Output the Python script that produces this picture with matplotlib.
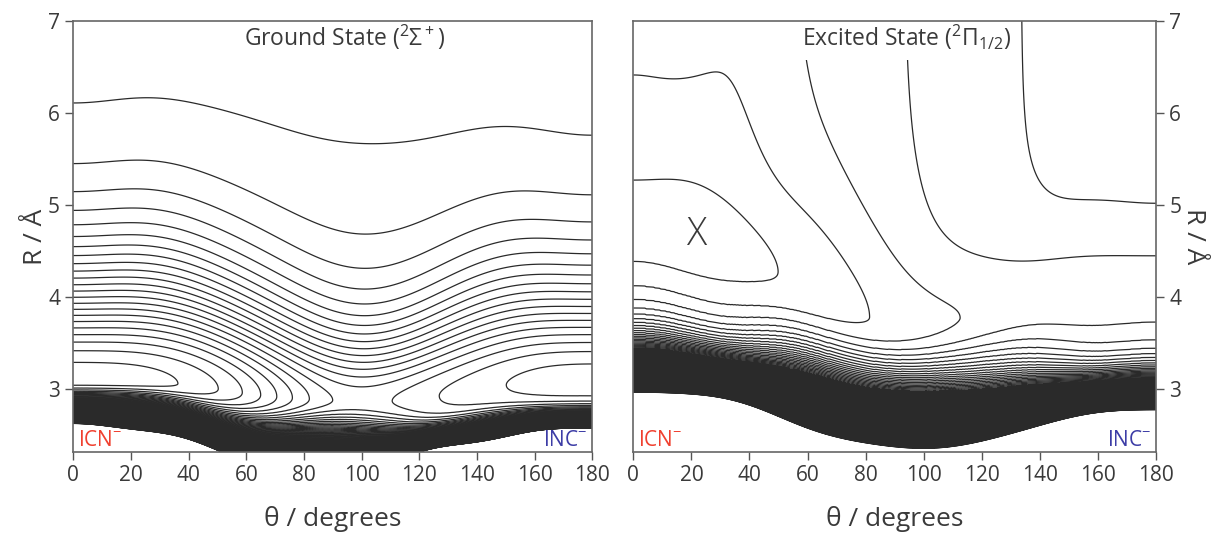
import numpy as np
import matplotlib.pyplot as plt

plt.rcParams['font.family'] = ['Open Sans', 'DejaVu Sans']
plt.rcParams['mathtext.fontset'] = 'custom'
plt.rcParams['mathtext.rm'] = 'Open Sans'
plt.rcParams['mathtext.it'] = 'Open Sans:italic'
plt.rcParams['mathtext.bf'] = 'Open Sans:bold'

theta_nodes = [0, 20, 40, 60, 80, 100, 120, 140, 160, 180]

# ground state (2Sigma+): valley floor R, floor energy in contour steps,
# R of the outermost contour, radial shape exponent, top and bottom of the wall band
gs_r_min = [3.10, 3.09, 3.05, 2.96, 2.90, 2.87, 2.90, 3.00, 3.08, 3.10]
gs_e_min = [-22.6, -22.5, -21.8, -19.8, -16.3, -14.6, -15.6, -16.6, -17.3, -17.5]
gs_r_top = [6.11, 6.16, 6.12, 5.96, 5.77, 5.67, 5.71, 5.83, 5.83, 5.76]
gs_shape = [4.0, 4.0, 3.4, 2.5, 1.8, 1.5, 1.8, 2.6, 3.2, 3.3]
gs_r_solid = [2.97, 2.95, 2.84, 2.66, 2.60, 2.58, 2.61, 2.70, 2.79, 2.81]
gs_r_edge = [2.63, 2.57, 2.46, 2.22, 2.10, 2.10, 2.32, 2.43, 2.55, 2.58]
gs_e_far = 0.5

# excited state (2Pi1/2)
ex_r_min = [4.80, 4.72, 4.45, 4.10, 3.80, 3.70, 3.85, 4.00, 4.03, 4.05]
ex_e_min = [-2.75, -2.85, -2.35, -1.70, -1.05, -0.35, 0.15, 0.35, 0.50, 0.55]
ex_e_far = [-0.75, -0.72, -0.71, 0.37, 0.85, 1.20, 1.75, 2.15, 2.60, 2.75]
ex_width = [0.61, 0.65, 0.67, 1.12, 1.36, 1.08, 0.88, 0.80, 1.10, 1.15]
ex_shape = [1.0, 1.0, 1.0, 1.0, 1.5, 2.0, 2.0, 2.0, 2.0, 2.0]
ex_r_solid = [3.50, 3.45, 3.35, 3.20, 3.05, 3.00, 3.02, 3.10, 3.16, 3.19]
ex_r_edge = [2.97, 2.95, 2.83, 2.58, 2.42, 2.36, 2.44, 2.61, 2.75, 2.78]

E_TOP = 220     # highest contour level (lower edge of the wall band)
E_FILL = 20     # above this the wall lines are drawn as one filled band
SOLID = 80      # contour steps per angstrom where the wall lines merge

theta = np.linspace(0, 180, 361)
radius = np.linspace(2.0, 7.2, 1041)


def along(values):
    # smooth cosine-series interpolation through the node values
    t = np.radians(theta_nodes)
    n = np.arange(len(t))
    coef = np.linalg.solve(np.cos(np.outer(t, n)), np.asarray(values, float))
    return np.cos(np.outer(np.radians(theta), n)) @ coef


def surface(r0, e0, ef, w, p, w_in, r_s, r_e):
    R = radius[:, None]
    u = np.clip(R - r0, 0, None)
    d = np.clip(r0 - R, 0, None)
    out = ef + (e0 - ef) * (1 + (u / w) ** 2) ** (-p)
    inn = ef + (e0 - ef) * (1 + (d / w_in) ** 2) ** (-p)
    soft = np.where(R >= r0, out, inn)

    # exponential wall; steepness picked so the lines merge at r_s
    d_w = r0 - r_e
    d_s = r0 - r_s
    soft_edge = ef + (e0 - ef) * (1 + (d_w / w_in) ** 2) ** (-p)
    ks = np.linspace(0.5, 40, 800)[:, None]
    amp = (E_TOP - soft_edge) / (np.exp(ks * d_w) - 1 - ks * d_w)
    ok = amp * ks * (np.exp(ks * d_s) - 1) >= SOLID
    idx = len(ks) - 1 - np.argmax(ok[::-1], axis=0)
    idx = np.where(ok.any(axis=0), idx, 0)
    k = ks[idx, 0]
    a = amp[idx, np.arange(len(theta))]
    wall = a * (np.exp(k * d) - 1 - k * d)
    return soft + wall


# ground state field, width fixed so that level 0 passes through r_top
g_r0, g_e0, g_p = along(gs_r_min), along(gs_e_min), along(gs_shape)
g_w = (along(gs_r_top) - g_r0) / np.sqrt(((gs_e_far - g_e0) / gs_e_far) ** (1 / g_p) - 1)
V_gs = surface(g_r0, g_e0, gs_e_far, g_w, g_p, 10.0,
               along(gs_r_solid), along(gs_r_edge))

e_w = along(ex_width)
V_ex = surface(along(ex_r_min), along(ex_e_min), along(ex_e_far), e_w,
               along(ex_shape), e_w, along(ex_r_solid), along(ex_r_edge))

line_col = '#2a2a2a'
text_col = '#3a3a3a'

fig = plt.figure(figsize=(12.17, 5.33), dpi=100)
ax1 = fig.add_axes([0.0602, 0.152, 0.4265, 0.8086])
ax2 = fig.add_axes([0.5204, 0.152, 0.4295, 0.8086])

for ax, V, low in ((ax1, V_gs, -22), (ax2, V_ex, -2)):
    ax.contourf(theta, radius, V, levels=[E_FILL, E_TOP], colors=line_col)
    ax.contour(theta, radius, V, levels=np.arange(low, E_TOP + 1),
               colors=line_col, linewidths=0.9, negative_linestyles='solid')

for ax in (ax1, ax2):
    ax.set_xlim(0, 180)
    ax.set_ylim(2.32, 7)
    ax.set_xticks(range(0, 181, 20))
    ax.set_yticks([3, 4, 5, 6, 7])
    ax.tick_params(direction='out', length=6, width=1, colors='#555555',
                   labelcolor=text_col, labelsize=15)
    for s in ax.spines.values():
        s.set_color('#666666')
        s.set_linewidth(1.2)
        s.set_zorder(10)
    ax.set_xlabel('θ / degrees', fontsize=19, color=text_col, labelpad=14)
    ax.text(1.5, 2.39, r'ICN$\mathregular{^{-}}$', color='#f0402f', fontsize=15,
            ha='left', va='baseline', zorder=8)
    ax.text(178.5, 2.39, r'INC$\mathregular{^{-}}$', color='#3d3da6', fontsize=15,
            ha='right', va='baseline', zorder=8)

ax1.set_ylabel('R / Å', fontsize=19, color=text_col, labelpad=0)
ax2.yaxis.tick_right()
ax2.yaxis.set_label_position('right')
ax2.set_ylabel('R / Å', fontsize=19, color=text_col, rotation=270, labelpad=18)

box = dict(facecolor='white', edgecolor='none', pad=6)
ax1.text(94, 6.82, r'Ground State ($\mathregular{^2\Sigma^+}$)', fontsize=16.5,
         color=text_col, ha='center', va='center', bbox=box, zorder=5)
ax2.text(94, 6.82, r'Excited State ($\mathregular{^2\Pi_{1/2}}$)', fontsize=16.5,
         color=text_col, ha='center', va='center', bbox=box, zorder=5)
ax2.text(22, 4.68, 'X', fontsize=27, color=text_col, fontweight='light',
         ha='center', va='center')

fig.savefig('out.png', dpi=100)
